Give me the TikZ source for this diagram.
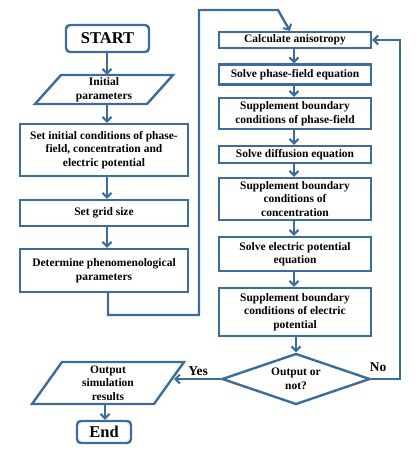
\documentclass[tikz,border=0pt]{standalone}
\usepackage{fontspec}
\setmainfont{Liberation Serif}
\usetikzlibrary{arrows.meta,shapes.geometric,calc}
\definecolor{fc}{RGB}{60,108,155}
\tikzset{
  line/.style={draw=fc,line width=2.4pt,line join=miter},
  arr/.style={line,-{Straight Barb[length=4.5pt,width=9pt,line width=2pt]}},
  box/.style={line,rectangle,inner sep=0pt,align=center,font=\bfseries\fontsize{11.5}{13.5}\selectfont},
  ghost/.style={rectangle,inner sep=0pt,align=center,font=\bfseries\fontsize{11.5}{13.5}\selectfont},
  term/.style={line,rectangle,rounded corners=4pt,inner sep=0pt,font=\bfseries\fontsize{16.5}{18}\selectfont},
  lbl/.style={font=\bfseries\fontsize{13.5}{15}\selectfont,inner sep=0pt}
}
\begin{document}
\begin{tikzpicture}[x=1pt,y=-1pt]
\useasboundingbox (0,0) rectangle (419,452);
% left column
\node[term,minimum width=83pt,minimum height=27pt] (start) at (107.5,38.5) {START};
\node[ghost,minimum width=112pt,minimum height=29pt] (init) at (104,89.5) {Initial\\parameters};
\draw[line] (61,75) -- (173,75) -- (147,104) -- (35,104) -- cycle;
\node[box,minimum width=168pt,minimum height=52pt] (setinit) at (104,150) {Set initial conditions of phase-\\field, concentration and\\electric potential};
\node[box,minimum width=168pt,minimum height=26pt] (grid) at (104,213) {Set grid size};
\node[box,minimum width=168pt,minimum height=43pt] (det) at (104,270.5) {Determine phenomenological\\parameters};
% right column
\node[box,minimum width=152pt,minimum height=16pt] (anis) at (295,40) {Calculate anisotropy};
\node[box,minimum width=152pt,minimum height=20pt] (pf) at (295,74.5) {Solve phase-field equation};
\node[box,minimum width=152pt,minimum height=31pt] (sbpf) at (295,113.5) {Supplement boundary\\conditions of phase-field};
\node[box,minimum width=152pt,minimum height=17pt] (diff) at (295,154.5) {Solve diffusion equation};
\node[box,minimum width=152pt,minimum height=42pt] (sbc) at (295,199) {Supplement boundary\\conditions of\\concentration};
\node[box,minimum width=152pt,minimum height=34pt] (elec) at (295,254) {Solve electric potential\\equation};
\node[box,minimum width=152pt,minimum height=48pt] (sbe) at (295,312) {Supplement boundary\\conditions of electric\\potential};
\node[line,diamond,shape aspect=3,inner sep=0pt,minimum width=148pt,minimum height=51pt,align=center,font=\bfseries\fontsize{11.5}{13.5}\selectfont] (dec) at (296,379) {Output or\\not?};
% output
\node[ghost,minimum width=122pt,minimum height=42pt] (out) at (108,383) {Output\\simulation\\results};
\draw[line] (62,362) -- (184,362) -- (154,404) -- (32,404) -- cycle;
\node[term,minimum width=54pt,minimum height=22pt] (end) at (104,432) {End};
% connectors left
\draw[arr] (start.south -| 107,0) -- (init.north -| 107,0);
\draw[arr] (init.south -| 107,0) -- (setinit.north -| 107,0);
\draw[arr] (setinit.south -| 107,0) -- (grid.north -| 107,0);
\draw[arr] (grid.south -| 107,0) -- (det.north -| 107,0);
% loop to right column
\coordinate (c1) at (199,315);
\coordinate (c2) at (199,10);
\coordinate (c3) at (278,10);
\coordinate (c4) at (290,31);
\draw[arr] (det.south -| 108,0) |- (c1) -- (c2) -- (c3) -- (c4);
% right column connectors
\draw[arr] (anis.south -| 294,0) -- (pf.north -| 294,0);
\draw[arr] (pf.south -| 294,0) -- (sbpf.north -| 294,0);
\draw[arr] (sbpf.south -| 294,0) -- (diff.north -| 294,0);
\draw[arr] (diff.south -| 294,0) -- (sbc.north -| 294,0);
\draw[arr] (sbc.south -| 294,0) -- (elec.north -| 294,0);
\draw[arr] (elec.south -| 294,0) -- (sbe.north -| 294,0);
\draw[arr] (sbe.south -| 296,0) -- (dec.north);
% decision branches
\coordinate (n1) at (400,379);
\coordinate (n2) at (400,40);
\draw[arr] (dec.east) -- (n1) -- (n2) -- (anis.east);
\coordinate (y1) at (174,379);
\draw[arr] (dec.west) -- (y1);
\node[lbl] (yes) at (198,371) {Yes};
\node[lbl] (no) at (378,367) {No};
\draw[arr] (out.south -| 105,0) -- (end.north -| 105,0);
\end{tikzpicture}
\end{document}
